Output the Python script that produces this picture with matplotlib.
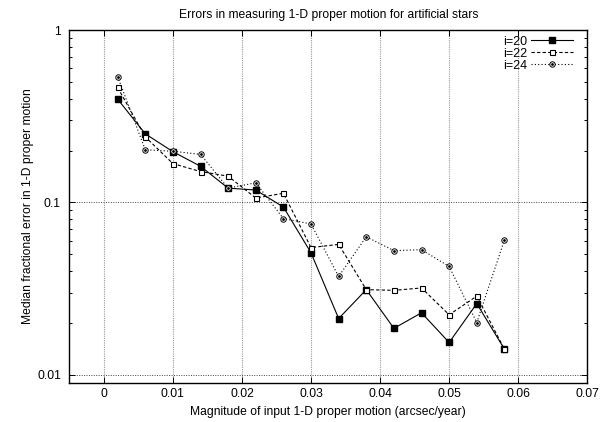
import matplotlib
matplotlib.use("Agg")
import matplotlib.pyplot as plt
from matplotlib.ticker import FixedLocator, LogLocator, NullFormatter
from matplotlib.legend_handler import HandlerTuple

plt.rcParams['font.family'] = ['Liberation Sans', 'DejaVu Sans']

x = [0.002, 0.006, 0.010, 0.014, 0.018, 0.022, 0.026, 0.030,
     0.034, 0.038, 0.042, 0.046, 0.050, 0.054, 0.058]
i20 = [0.397, 0.250, 0.197, 0.162, 0.121, 0.118, 0.094, 0.051,
       0.0212, 0.0312, 0.0186, 0.0229, 0.0154, 0.0259, 0.0141]
i22 = [0.464, 0.240, 0.168, 0.151, 0.142, 0.106, 0.113, 0.0547,
       0.0571, 0.0312, 0.0309, 0.0319, 0.0223, 0.0286, 0.0141]
i24 = [0.537, 0.202, 0.198, 0.190, 0.121, 0.130, 0.0806, 0.075,
       0.0372, 0.0632, 0.0525, 0.0532, 0.0425, 0.0201, 0.0605]
labels = ["i=20", "i=22", "i=24"]
xticks = [0, 0.01, 0.02, 0.03, 0.04, 0.05, 0.06, 0.07]
xticklabels = ["0", "0.01", "0.02", "0.03", "0.04", "0.05", "0.06", "0.07"]
yticks = [0.01, 0.1, 1]
yticklabels = ["0.01", "0.1", "1"]

fig = plt.figure(figsize=(6.0, 4.22), dpi=100)
ax = fig.add_axes([0.1155, 0.0931, 0.8633, 0.8358])
fs = 8.7

l20, = ax.plot(x, i20, '-', color='black', lw=0.8, marker='s', ms=4.0,
               mfc='black', mec='black', label=labels[0])
l22, = ax.plot(x, i22, color='black', lw=0.8, ls=(0, (3, 2)), marker='s', ms=3.6,
               mfc='white', mec='black', mew=0.8, label=labels[1])
l24, = ax.plot(x, i24, color='black', lw=0.8, ls=(0, (1, 2)), marker='o', ms=3.9,
               mfc='white', mec='black', mew=0.7, label=labels[2])
d24, = ax.plot(x, i24, ls='none', marker='o', ms=1.0, mfc='black', mec='black')

ax.set_yscale('log')
ax.set_xlim(-0.005, 0.07)
ax.set_ylim(0.009, 1)
ax.xaxis.set_major_locator(FixedLocator(xticks))
ax.set_xticklabels(xticklabels, fontsize=fs)
ax.yaxis.set_major_locator(FixedLocator(yticks))
ax.set_yticklabels(yticklabels, fontsize=fs)
ax.yaxis.set_minor_locator(LogLocator(base=10, subs=range(2, 10)))
ax.yaxis.set_minor_formatter(NullFormatter())
ax.tick_params(which='both', direction='in', top=True, right=True, width=0.7)
ax.tick_params(which='major', length=4)
ax.tick_params(which='minor', length=2.5)
ax.tick_params(axis='x', which='major', pad=4)
ax.tick_params(axis='y', which='major', pad=6)

ax.grid(True, which='major', axis='x', ls=(0, (1, 1)), color='#999999', lw=0.8)
ax.grid(True, which='major', axis='y', ls=(0, (1, 1.5)), color='#444444', lw=0.7)
for s in ax.spines.values():
    s.set_linewidth(1.0)

ax.set_title("Errors in measuring 1-D proper motion for artificial stars", fontsize=fs, pad=9)
ax.set_xlabel("Magnitude of input 1-D proper motion (arcsec/year)", fontsize=fs, labelpad=4)
ax.set_ylabel("Median fractional error in 1-D proper motion", fontsize=fs, labelpad=2)

ax.legend([l20, l22, (l24, d24)], labels, loc='upper right', frameon=False,
          markerfirst=False, fontsize=fs + 0.3, handlelength=3.4, handletextpad=0.3,
          labelspacing=0.0, borderaxespad=0.0, borderpad=0.0,
          bbox_to_anchor=(0.955, 0.915), bbox_transform=fig.transFigure,
          handler_map={tuple: HandlerTuple(ndivide=1)})

fig.savefig("out.png", dpi=100)
